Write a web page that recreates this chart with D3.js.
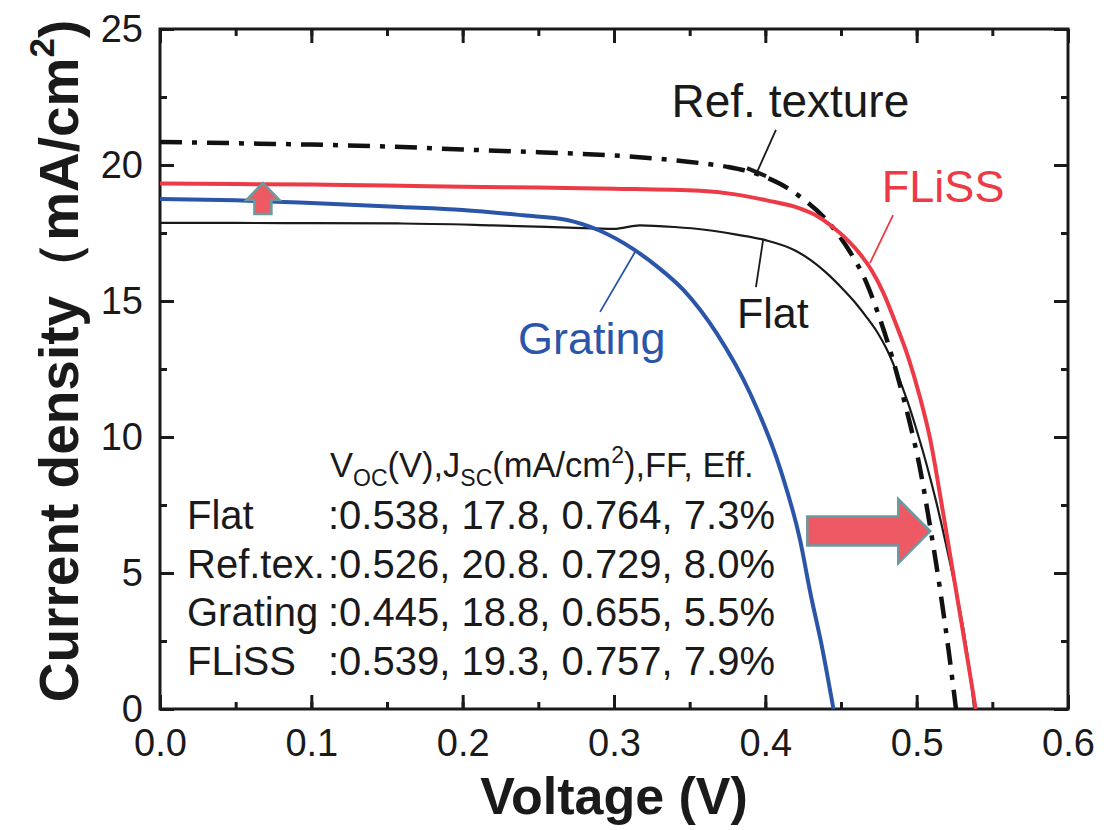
<!DOCTYPE html>
<html lang="en">
<head>
    <meta charset="UTF-8">
    <title>J-V curves</title>
    <style>
        body { margin: 0; background: #fff; }
        text { font-family: "Liberation Sans", Arial, sans-serif; fill: #1a1a1a; }
    </style>
</head>
<body>
    <svg width="1108" height="830"></svg>
    <script src="https://d3js.org/d3.v7.min.js"></script>
    <script>
        // J-V data: [voltage (V), current density (mA/cm2)]
        const flat = [[0, 17.87], [0.05, 17.87], [0.1, 17.86], [0.16, 17.85], [0.22, 17.78], [0.27, 17.7],
            [0.3, 17.65], [0.317, 17.78], [0.34, 17.72], [0.36, 17.62], [0.38, 17.45], [0.4, 17.24],
            [0.42, 16.85], [0.43, 16.5], [0.44, 16.05], [0.451, 15.45], [0.46, 14.9], [0.467, 14.4],
            [0.474, 13.85], [0.48, 13.25], [0.487, 12.35], [0.494, 11.3], [0.5, 10.25], [0.507, 8.9],
            [0.513, 7.6], [0.519, 6.15], [0.525, 4.6], [0.531, 2.9], [0.535, 1.4], [0.538, 0]];
        const refTexture = [[0, 20.85], [0.05, 20.8], [0.1, 20.75], [0.15, 20.68], [0.2, 20.57], [0.25, 20.47],
            [0.3, 20.35], [0.357, 20.07], [0.375, 19.93], [0.394, 19.68], [0.41, 19.3], [0.425, 18.75],
            [0.44, 18.0], [0.456, 16.8], [0.465, 15.9], [0.476, 14.3], [0.484, 12.9], [0.49, 11.7],
            [0.496, 10.4], [0.502, 8.9], [0.508, 7.0], [0.513, 5.3], [0.517, 3.8], [0.521, 2.2], [0.526, 0]];
        const grating = [[0, 18.75], [0.05, 18.7], [0.1, 18.6], [0.159, 18.46], [0.2, 18.35], [0.24, 18.15],
            [0.269, 17.98], [0.29, 17.6], [0.313, 16.9], [0.33, 16.2], [0.346, 15.4], [0.368, 13.8],
            [0.39, 11.6], [0.41, 8.8], [0.423, 6.2], [0.43, 4.2], [0.437, 2.4], [0.445, 0]];
        const fliss = [[0, 19.32], [0.05, 19.3], [0.1, 19.28], [0.15, 19.25], [0.2, 19.2], [0.25, 19.17],
            [0.3, 19.13], [0.357, 19.05], [0.38, 18.92], [0.401, 18.7], [0.423, 18.4], [0.435, 18.1],
            [0.445, 17.7], [0.455, 17.2], [0.463, 16.7], [0.47, 16.15], [0.478, 15.3], [0.486, 14.2],
            [0.494, 13.0], [0.502, 11.5], [0.509, 9.9], [0.516, 7.7], [0.522, 5.7], [0.528, 3.7],
            [0.534, 1.7], [0.539, 0]];

        const xTicks = [0, 0.1, 0.2, 0.3, 0.4, 0.5, 0.6];
        const xMinor = d3.range(0, 0.6001, 0.05);
        const yTicks = [0, 5, 10, 15, 20, 25];
        const yMinor = d3.range(0, 25.01, 2.5);

        const tableLabels = ["Flat", "Ref.tex.", "Grating", "FLiSS"];
        const tableValues = [":0.538, 17.8, 0.764, 7.3%", ":0.526, 20.8. 0.729, 8.0%",
            ":0.445, 18.8, 0.655, 5.5%", ":0.539, 19.3, 0.757, 7.9%"];

        const red = "#ec3a46", blue = "#2b55a8";

        let svg = d3.select("svg"),
            margin = { top: 29, right: 40, bottom: 121, left: 160 },
            width = +svg.attr("width"),
            height = +svg.attr("height");

        let x = d3.scaleLinear().domain([0, 0.6]).range([margin.left, width - margin.right]);
        let y = d3.scaleLinear().domain([0, 25]).range([height - margin.bottom, margin.top]);

        // axes: inward ticks on all four sides
        function axis(gen, tr, vals, size, labels, pad) {
            let g = svg.append("g")
                .attr("transform", tr)
                .call(gen.tickValues(vals).tickSize(size).tickPadding(pad)
                    .tickFormat(labels ? labels : () => ""));
            g.attr("font-size", 38).attr("font-family", "Liberation Sans, Arial, sans-serif");
            g.select(".domain").remove();
            g.selectAll("line").attr("stroke", "#1a1a1a").attr("stroke-width", 3);
            g.selectAll("text").attr("fill", "#1a1a1a");
            return g;
        }
        let x0 = "translate(0," + y(0) + ")", xt = "translate(0," + y(25) + ")";
        let y0 = "translate(" + x(0) + ",0)", yr = "translate(" + x(0.6) + ",0)";
        axis(d3.axisBottom(x), x0, xMinor, -7, null, 0);
        axis(d3.axisBottom(x), x0, xTicks, -14, d3.format(".1f"), 20);
        axis(d3.axisTop(x), xt, xMinor, -7, null, 0);
        axis(d3.axisTop(x), xt, xTicks, -14, null, 0);
        axis(d3.axisLeft(y), y0, yMinor, -7, null, 0);
        axis(d3.axisLeft(y), y0, yTicks, -14, d3.format("d"), 17);
        axis(d3.axisRight(y), yr, yMinor, -7, null, 0);
        axis(d3.axisRight(y), yr, yTicks, -14, null, 0);

        svg.append("rect")
            .attr("x", x(0)).attr("y", y(25))
            .attr("width", x(0.6) - x(0)).attr("height", y(0) - y(25))
            .attr("fill", "none").attr("stroke", "#1a1a1a").attr("stroke-width", 3);

        // curves
        let line = d3.line()
            .x(d => x(d[0]))
            .y(d => y(d[1]))
            .curve(d3.curveMonotoneX);

        svg.append("path").datum(flat)
            .attr("fill", "none").attr("stroke", "#1a1a1a").attr("stroke-width", 2.2)
            .attr("d", line);
        svg.append("path").datum(grating)
            .attr("fill", "none").attr("stroke", blue).attr("stroke-width", 4)
            .attr("d", line);
        svg.append("path").datum(refTexture)
            .attr("fill", "none").attr("stroke", "#111").attr("stroke-width", 4.5)
            .attr("stroke-dasharray", "22,10,5,10")
            .attr("d", line);
        svg.append("path").datum(fliss)
            .attr("fill", "none").attr("stroke", red).attr("stroke-width", 4)
            .attr("d", line);

        // curve labels with leader lines
        function leader(p, q, color) {
            svg.append("line")
                .attr("x1", x(p[0])).attr("y1", y(p[1]))
                .attr("x2", x(q[0])).attr("y2", y(q[1]))
                .attr("stroke", color).attr("stroke-width", 1.8);
        }
        function label(t, p, color, size) {
            svg.append("text")
                .attr("x", x(p[0])).attr("y", y(p[1]))
                .attr("font-size", size)
                .style("fill", color)
                .text(t);
        }

        label("Ref. texture", [0.338, 21.76], "#1a1a1a", 46);
        leader([0.407, 21.29], [0.3945, 19.74], "#1a1a1a");
        svg.append("line")
            .attr("x1", x(0.3945) - 10).attr("y1", y(19.74) - 4)
            .attr("x2", x(0.3945) + 9).attr("y2", y(19.74) + 4)
            .attr("stroke", "#1a1a1a").attr("stroke-width", 4);

        label("FLiSS", [0.477, 18.64], red, 45);
        leader([0.4844, 18.16], [0.4692, 16.4], red);

        label("Flat", [0.3813, 14.0], "#1a1a1a", 43);
        leader([0.3985, 17.24], [0.3938, 15.51], "#1a1a1a");

        label("Grating", [0.2366, 13.05], blue, 45);
        leader([0.2908, 14.6], [0.3139, 16.8], blue);

        // parameter table
        let hdr = svg.append("text")
            .attr("x", 330).attr("y", 477)
            .attr("font-size", 34.5);
        hdr.append("tspan").text("V");
        hdr.append("tspan").attr("font-size", 23).attr("dy", 9).text("OC");
        hdr.append("tspan").attr("dy", -9).text("(V),J");
        hdr.append("tspan").attr("font-size", 23).attr("dy", 9).text("SC");
        hdr.append("tspan").attr("dy", -9).text("(mA/cm");
        hdr.append("tspan").attr("font-size", 23).attr("dy", -14).text("2");
        hdr.append("tspan").attr("dy", 14).text("),FF, Eff.");

        tableLabels.forEach((t, i) => {
            svg.append("text").attr("x", 187).attr("y", 529 + i * 48.5)
                .attr("font-size", 40).text(t);
            svg.append("text").attr("x", 328).attr("y", 529 + i * 48.5)
                .attr("font-size", 40).text(tableValues[i]);
        });

        // block arrows
        let upTip = [x(0.068), y(19.34)];
        svg.append("polygon")
            .attr("points", [[0, 0], [16.5, 17], [8.5, 17], [8.5, 31], [-8.5, 31], [-8.5, 17], [-16.5, 17]]
                .map(p => [upTip[0] + p[0], upTip[1] + p[1]].join(",")).join(" "))
            .attr("fill", "#ee5a64").attr("stroke", "#6b9aa0").attr("stroke-width", 2.5);

        let rTip = [x(0.509), y(6.54)];
        svg.append("polygon")
            .attr("points", [[0, 0], [-32, -32], [-32, -14.5], [-123, -14.5], [-123, 14.5], [-32, 14.5], [-32, 32]]
                .map(p => [rTip[0] + p[0], rTip[1] + p[1]].join(",")).join(" "))
            .attr("fill", "#ee5a64").attr("stroke", "#6b9aa0").attr("stroke-width", 2.5);

        // axis titles
        svg.append("text")
            .attr("x", (x(0) + x(0.6)) / 2).attr("y", 814)
            .attr("text-anchor", "middle")
            .attr("font-size", 52).attr("font-weight", "bold")
            .text("Voltage (V)");

        let yt = svg.append("text")
            .attr("transform", "translate(78," + (y(12.5) - 8) + ") rotate(-90)")
            .attr("text-anchor", "middle")
            .attr("font-size", 55).attr("font-weight", "bold");
        yt.append("tspan").text("Current density（mA/cm");
        yt.append("tspan").attr("font-size", 35).attr("dy", -24).text("2");
        yt.append("tspan").attr("dy", 24).text(")");
    </script>
</body>
</html>
